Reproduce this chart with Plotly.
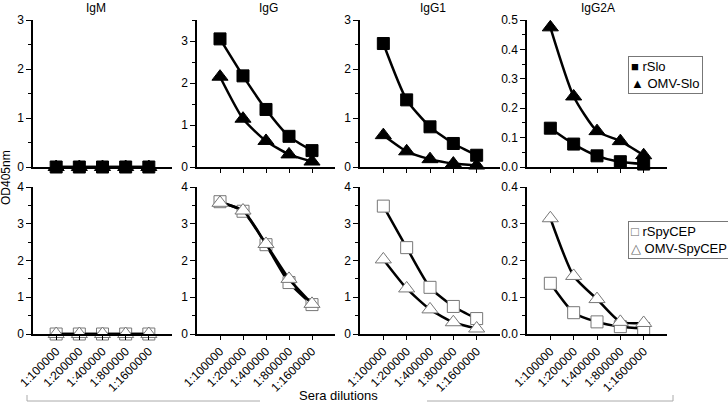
import plotly.graph_objects as go
from plotly.subplots import make_subplots

dilutions = ['1:100000', '1:200000', '1:400000', '1:800000', '1:1600000']
panels = ['IgM', 'IgG', 'IgG1', 'IgG2A']

# top row: Slo
rslo = {
    'IgM': [0, 0, 0, 0, 0],
    'IgG': [3.05, 2.17, 1.37, 0.73, 0.39],
    'IgG1': [2.52, 1.37, 0.82, 0.48, 0.24],
    'IgG2A': [0.132, 0.078, 0.038, 0.018, 0.010],
}
omv_slo = {
    'IgM': [0, 0, 0, 0, 0],
    'IgG': [2.15, 1.15, 0.62, 0.30, 0.13],
    'IgG1': [0.65, 0.32, 0.16, 0.07, 0.03],
    'IgG2A': [0.475, 0.24, 0.122, 0.088, 0.040],
}
# bottom row: SpyCEP
rspycep = {
    'IgM': [0, 0, 0, 0, 0],
    'IgG': [3.60, 3.34, 2.43, 1.40, 0.80],
    'IgG1': [3.48, 2.35, 1.27, 0.75, 0.42],
    'IgG2A': [0.138, 0.058, 0.033, 0.020, 0.015],
}
omv_spycep = {
    'IgM': [0, 0, 0, 0, 0],
    'IgG': [3.57, 3.36, 2.45, 1.50, 0.82],
    'IgG1': [2.03, 1.24, 0.67, 0.32, 0.15],
    'IgG2A': [0.315, 0.158, 0.095, 0.033, 0.030],
}

top_range = {'IgM': 3, 'IgG': 3.5, 'IgG1': 3, 'IgG2A': 0.5}
bot_range = {'IgM': 4, 'IgG': 4, 'IgG1': 4, 'IgG2A': 0.4}

W, H = 728, 405
xpx = [(33, 172), (197, 335), (360, 500), (527, 667)]
title_x = [96, 268, 433, 598]
FONT = 'Liberation Sans'

fig = make_subplots(rows=2, cols=4)

def add_series(row, col, y, symbol, fill, edge):
    fig.add_trace(go.Scatter(
        x=dilutions, y=y, mode='lines+markers', line=dict(color='black', width=2.5, shape='spline', smoothing=0.6),
        marker=dict(symbol=symbol, size=12 if symbol == 'square' else 14, color=fill, line=dict(color=edge, width=1)),
        showlegend=False, cliponaxis=False), row=row, col=col)

for i, p in enumerate(panels):
    c = i + 1
    add_series(1, c, rslo[p], 'square', 'black', 'black')
    add_series(1, c, omv_slo[p], 'triangle-up', 'black', 'black')
    add_series(2, c, rspycep[p], 'square', 'white', '#777777')
    add_series(2, c, omv_spycep[p], 'triangle-up', 'white', '#777777')

for i, p in enumerate(panels):
    c = i + 1
    x0, x1 = xpx[i]
    for r, rng in [(1, top_range[p]), (2, bot_range[p])]:
        small = rng < 1
        fig.update_xaxes(row=r, col=c, domain=[x0 / W, x1 / W], type='category', range=[-1, 5],
                         showline=True, linecolor='black', linewidth=1.5, ticks='outside', ticklen=4,
                         tickcolor='black', showgrid=False, zeroline=False, automargin=False,
                         showticklabels=(r == 2), tickangle=-45, tickfont=dict(size=12))
        fig.update_yaxes(row=r, col=c, range=[0, rng], dtick=0.1 if small else 1,
                         tickformat='.1f' if small else 'd',
                         minor=dict(ticks='outside', dtick=0.05 if small else 0.5, ticklen=3, tickcolor='black'),
                         showline=True, linecolor='black', linewidth=1.5, ticks='outside', ticklen=5,
                         tickcolor='black', showgrid=False, zeroline=False, automargin=False,
                         tickfont=dict(size=12))
    fig.update_yaxes(row=1, col=c, domain=[1 - 167 / H, 1 - 20 / H])
    fig.update_yaxes(row=2, col=c, domain=[1 - 334 / H, 1 - 187 / H])
    fig.add_annotation(text=p, x=title_x[i] / W, y=1 - 8 / H, xref='paper', yref='paper',
                       xanchor='center', yanchor='middle', showarrow=False, font=dict(size=12))

fig.add_annotation(text='OD405nm', x=6 / W, y=1 - 178 / H, xref='paper', yref='paper',
                   xanchor='center', yanchor='middle', textangle=-90, showarrow=False, font=dict(size=12))
fig.add_annotation(text='Sera dilutions', x=338 / W, y=1 - 395 / H, xref='paper', yref='paper',
                   xanchor='center', yanchor='middle', showarrow=False, font=dict(size=13), borderpad=0)

# boxed legends
fig.add_annotation(text='■ rSlo<br>▲ OMV-Slo', x=628 / W, y=1 - 56 / H, xref='paper', yref='paper',
                   xanchor='left', yanchor='top', align='left', showarrow=False, font=dict(size=13),
                   bordercolor='#777777', borderwidth=1, borderpad=2, bgcolor='white')
fig.add_annotation(text='<span style="color:#666">□</span> rSpyCEP<br><span style="color:#666">△</span> OMV-SpyCEP',
                   x=628 / W, y=1 - 221 / H, xref='paper', yref='paper',
                   xanchor='left', yanchor='top', align='left', showarrow=False, font=dict(size=13),
                   bordercolor='#777777', borderwidth=1, borderpad=2, bgcolor='white')

gray = '#aaaaaa'
for (a, b, c2, d) in [(27, 395, 27, 401), (27, 401, 260, 401), (427, 401, 673, 401), (673, 401, 673, 395)]:
    fig.add_shape(type='line', xref='paper', yref='paper', x0=a / W, y0=1 - b / H, x1=c2 / W, y1=1 - d / H,
                  line=dict(color=gray, width=1))

fig.update_layout(
    width=W, height=H, margin=dict(l=0, r=0, t=0, b=0),
    paper_bgcolor='white', plot_bgcolor='white', showlegend=False,
    font=dict(family=FONT, color='black', size=12),
)

fig.write_html('out.html', config={'displayModeBar': False},
               post_script="document.body.style.margin='0px';")
